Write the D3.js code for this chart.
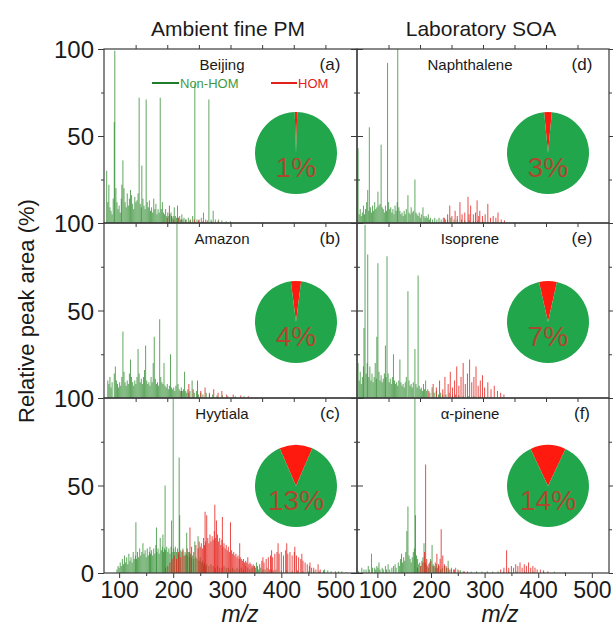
<!DOCTYPE html>
<html><head><meta charset="utf-8">
<script src="https://cdn.jsdelivr.net/npm/d3@7"></script>
<style>body{margin:0;background:#fff} text{font-family:Arial,"Liberation Sans",sans-serif}</style>
</head><body><svg id="c" width="613" height="630"></svg>
<script>
// ---------------- DATA ----------------
const columnTitles = ["Ambient fine PM", "Laboratory SOA"];
const panelNames = ["Beijing", "Amazon", "Hyytiala", "Naphthalene", "Isoprene", "\u03b1-pinene"];
const panelTags = ["(a)", "(b)", "(c)", "(d)", "(e)", "(f)"];
const homPercent = [1, 4, 13, 3, 7, 14];
const legendLabels = ["Non-HOM", "HOM"];
const xTickValues = [100, 200, 300, 400, 500];
const xMinorTicks = [150, 250, 350, 450];
const yTickValues = [0, 50, 100];
const yMinorTicks = [25, 75];
const yAxisTitle = "Relative peak area (%)";
const xAxisTitle = "m/z";

const beijingNonHOM = [[77,30],[79,12],[81,22],[83,9],[85,7],[87,5],[89,14],[91,58],[92,99],[94,20],[96,12],[98,8],[100,10],[102,6],[104,14],[105,22],[107,36],[109,20],[111,12],[113,9],[115,17],[117,10],[119,14],[121,19],[123,16],[125,11],[127,8],[129,15],[131,12],[133,13],[135,17],[137,72],[139,11],[141,9],[142,33],[144,14],[146,10],[148,8],[150,71],[152,12],[154,9],[156,13],[158,7],[160,9],[162,6],[164,14],[166,8],[168,11],[170,5],[172,8],[174,6],[176,72],[178,8],[180,12],[182,6],[184,5],[186,8],[188,4],[190,6],[192,4],[194,5],[196,6],[198,3],[200,4],[202,9],[204,4],[206,3],[208,10],[210,3],[212,4],[214,2],[216,5],[218,2],[220,3],[224,2],[228,3],[232,2],[236,4],[240,80],[244,2],[248,2],[252,3],[256,6],[260,2],[266,71],[270,2],[274,7],[278,2],[284,2],[290,1.5],[298,1],[306,1]];
const beijingHOM = [[189,3],[193,10],[197,4],[201,2],[209,3],[215,2],[223,2],[231,1.5],[239,2],[247,1.5],[255,1],[263,1.5],[271,1],[283,1]];

const amazonNonHOM = [[79,10],[81,8],[83,12],[85,6],[87,9],[91,14],[93,18],[95,10],[97,8],[99,6],[101,9],[103,7],[105,12],[107,38],[109,15],[111,9],[113,7],[115,10],[117,8],[119,14],[121,22],[123,12],[125,9],[127,7],[129,10],[131,8],[133,12],[135,28],[137,14],[139,9],[141,11],[143,8],[145,12],[147,16],[149,30],[151,10],[153,8],[155,9],[157,7],[159,12],[161,9],[163,20],[165,35],[167,11],[169,8],[171,9],[173,7],[175,45],[177,12],[179,9],[181,8],[183,20],[185,7],[187,6],[189,8],[191,5],[193,7],[195,25],[197,6],[199,5],[201,6],[203,4],[205,7],[207,100],[209,8],[211,5],[213,4],[215,6],[217,4],[219,5],[221,15],[223,4],[225,3],[227,5],[229,3],[231,4],[235,10],[239,3],[243,4],[247,2],[251,3],[255,2],[261,3],[267,2],[273,2],[281,1.5],[291,1.5],[301,1],[315,1],[331,1]];
const amazonHOM = [[215,4],[229,8],[237,5],[245,10],[251,4],[259,6],[267,3],[275,5],[283,3],[290,4],[299,2],[311,2],[325,1.5],[339,1]];

const hyytialaNonHOM = [[96,2],[98,4],[100,3],[102,6],[104,4],[106,8],[108,5],[110,10],[112,6],[114,9],[116,5],[118,11],[120,7],[122,9],[124,6],[126,12],[128,8],[130,10],[131,29],[132,8],[134,12],[136,9],[138,14],[140,10],[142,12],[144,17],[146,11],[148,13],[150,9],[152,14],[154,10],[156,12],[157,15],[158,11],[160,13],[162,10],[164,14],[166,11],[168,16],[169,26],[170,12],[172,14],[174,11],[176,20],[178,13],[180,15],[181,22],[182,12],[184,14],[185,50],[186,13],[188,15],[190,12],[192,14],[194,11],[196,15],[197,30],[198,12],[200,100],[201,14],[202,12],[204,15],[206,12],[208,14],[210,11],[211,66],[212,33],[214,13],[216,12],[218,14],[220,10],[222,12],[224,11],[225,23],[226,10],[228,12],[230,9],[232,11],[234,9],[236,10],[238,8],[240,18],[242,9],[244,8],[246,21],[248,7],[250,9],[252,6],[254,7],[256,5],[258,6],[260,4],[262,5],[266,4],[270,5],[274,4],[278,3],[282,4],[286,3],[290,3],[294,4],[298,3],[302,3],[306,2],[310,3],[314,2],[318,3],[322,2],[326,3],[330,2],[334,4],[338,3],[342,2],[346,3],[350,4],[354,6],[358,2],[362,3],[366,2],[370,2],[374,3],[378,2],[382,2],[386,1.5],[390,2],[400,1.5],[410,1.5],[420,1],[430,1.5],[440,1],[450,1],[460,1.5],[470,1],[480,2],[486,1.5],[492,1],[500,1],[506,1],[512,1],[520,0.5]];
const hyytialaHOM = [[186,3],[190,4],[194,6],[198,8],[202,10],[206,8],[210,12],[214,9],[218,13],[222,10],[226,14],[230,12],[231,26],[234,15],[238,12],[242,16],[246,14],[248,18],[250,15],[252,17],[254,14],[256,20],[258,16],[259,35],[260,18],[262,33],[264,20],[266,17],[268,22],[270,18],[272,21],[274,19],[276,24],[277,39],[278,20],[280,30],[282,22],[284,18],[286,20],[288,16],[290,19],[291,32],[292,15],[294,17],[296,14],[298,16],[300,13],[302,15],[304,12],[306,29],[308,13],[310,11],[312,12],[314,10],[316,11],[318,9],[320,10],[322,8],[323,17],[324,9],[326,8],[328,7],[330,8],[332,6],[334,7],[336,6],[338,9],[340,5],[342,6],[344,5],[346,4],[348,5],[350,4],[352,3],[356,4],[360,5],[364,7],[366,9],[368,6],[372,8],[376,9],[380,10],[382,13],[384,9],[388,11],[392,12],[394,17],[396,11],[400,12],[404,10],[408,13],[410,17],[412,11],[416,12],[420,10],[424,12],[425,15],[428,10],[432,9],[436,8],[438,11],[440,7],[444,6],[448,5],[452,4],[453,6],[456,3],[460,3],[464,2],[468,5],[472,2],[478,1.5]];

const naphthaleneNonHOM = [[64,43],[66,5],[68,8],[70,4],[72,6],[74,10],[76,5],[78,8],[80,12],[82,19],[84,7],[85,55],[87,9],[89,6],[91,10],[93,7],[95,12],[97,8],[99,9],[101,18],[103,10],[105,11],[107,45],[109,9],[111,8],[113,6],[115,10],[117,7],[119,92],[121,12],[123,8],[125,9],[127,6],[129,8],[131,5],[133,10],[135,7],[137,12],[138,100],[140,9],[142,7],[144,5],[146,6],[148,4],[150,7],[152,5],[154,8],[157,16],[159,6],[161,5],[163,9],[165,6],[167,7],[170,25],[172,6],[174,5],[176,4],[178,6],[180,3],[182,5],[185,9],[187,4],[189,3],[191,4],[193,3],[195,5],[197,2],[199,3],[203,2],[207,3],[211,2],[215,3],[219,2],[223,3],[227,2],[231,2],[237,3],[243,2],[249,2],[257,2],[263,1.5],[271,1.5],[279,1],[287,1],[297,1],[307,0.5]];
const naphthaleneHOM = [[225,3],[231,5],[235,10],[239,4],[245,7],[249,4],[254,12],[258,5],[263,6],[269,15],[271,5],[274,10],[279,5],[283,6],[286,13],[289,4],[291,7],[296,4],[301,5],[306,11],[311,3],[316,4],[321,3],[325,6],[331,2],[337,1.5]];

const isopreneNonHOM = [[64,20],[66,10],[68,15],[70,8],[72,12],[74,18],[75,40],[77,99],[79,14],[81,20],[82,82],[84,12],[86,18],[88,10],[90,14],[92,9],[94,12],[96,20],[98,11],[99,35],[101,77],[103,15],[105,10],[107,13],[109,9],[111,11],[113,14],[115,30],[116,12],[118,81],[120,14],[122,9],[124,11],[126,8],[128,12],[130,25],[132,10],[134,8],[136,9],[138,7],[140,10],[142,22],[144,9],[146,7],[148,8],[150,6],[152,9],[154,12],[157,61],[159,10],[161,7],[163,8],[165,6],[167,9],[170,28],[172,8],[174,6],[176,70],[178,7],[180,5],[182,6],[184,4],[186,8],[188,5],[190,10],[192,4],[194,5],[198,3],[202,6],[206,3],[210,4],[214,2],[218,3],[222,2],[228,2],[234,3],[240,1.5],[246,2],[252,1.5],[260,1],[270,1],[280,1],[290,0.8],[300,0.8],[310,0.6]];
const isopreneHOM = [[196,4],[204,8],[210,6],[216,10],[222,5],[226,12],[232,8],[236,15],[240,6],[244,10],[248,18],[252,7],[256,12],[260,20],[264,8],[268,14],[272,22],[276,9],[280,12],[284,18],[288,7],[292,10],[296,13],[300,6],[306,9],[312,5],[318,7],[324,4],[330,3],[336,2]];

const apineneNonHOM = [[65,1],[71,3],[75,2],[79,2],[83,4],[85,2],[89,11],[91,3],[95,3],[97,2],[99,4],[101,3],[103,6],[105,2],[109,3],[111,2],[115,4],[117,2],[120,5],[123,2],[127,3],[130,4],[133,5],[135,3],[139,6],[141,4],[143,8],[145,11],[147,6],[149,9],[151,7],[153,12],[155,24],[157,38],[159,10],[161,8],[163,6],[165,9],[167,12],[169,14],[170,100],[171,33],[173,10],[175,8],[177,5],[179,6],[181,4],[183,7],[185,9],[187,17],[189,6],[191,5],[193,4],[195,3],[197,6],[199,8],[202,16],[204,5],[206,4],[208,3],[210,5],[212,3],[215,4],[218,2],[221,3],[225,4],[229,3],[232,7],[235,2],[238,3],[242,2],[246,3],[250,2],[255,1.5],[260,1],[268,1],[275,0.8],[285,1],[295,0.8],[305,1],[315,0.8],[325,1],[335,0.8],[345,1],[360,0.8],[375,0.8],[390,0.8],[410,0.8],[430,0.8],[450,0.5]];
const apineneHOM = [[175,3],[181,4],[185,6],[188,12],[190,62],[192,8],[196,5],[200,7],[204,4],[208,6],[211,11],[214,5],[217,8],[219,25],[222,10],[225,5],[228,4],[232,3],[238,2],[244,2],[252,1.5],[262,1],[330,2],[336,3],[341,13],[345,3],[350,4],[354,3],[358,5],[362,4],[366,6],[370,3],[374,5],[378,4],[382,6],[386,3],[390,4],[394,3],[398,2],[404,2],[410,1.5],[418,1]];

const xDomains = [[72, 540], [62, 532]];

// ---------------- LAYOUT ----------------
const svg = d3.select("#c");
const colX = [[104, 357], [357, 609]];
const rowY = [[49, 223], [223, 398], [398, 573]];
const pieDy = [104, 99, 88];
const pieR = 41;
const GREEN = "#2b8a2b", RED = "#e3201b", PIEGREEN = "#21a64b", FRAME = "#3a3a3a";

const spectra = [
  [beijingNonHOM, beijingHOM], [amazonNonHOM, amazonHOM], [hyytialaNonHOM, hyytialaHOM],
  [naphthaleneNonHOM, naphthaleneHOM], [isopreneNonHOM, isopreneHOM], [apineneNonHOM, apineneHOM]
];

const defs = svg.append("defs");

for (let c = 0; c < 2; c++) {
  const x = d3.scaleLinear().domain(xDomains[c]).range(colX[c]);
  const seg = d3.scaleLinear().domain([0, 8]).range(colX[c]);
  for (let r = 0; r < 3; r++) {
    const i = c * 3 + r;
    const y = d3.scaleLinear().domain([0, 100]).range([rowY[r][1], rowY[r][0]]);
    const g = svg.append("g");
    const cid = "clip" + i;
    defs.append("clipPath").attr("id", cid).append("rect")
      .attr("x", colX[c][0]).attr("y", rowY[r][0])
      .attr("width", colX[c][1] - colX[c][0]).attr("height", rowY[r][1] - rowY[r][0]);
    const plot = g.append("g").attr("clip-path", `url(#${cid})`);
    const [non, hom] = spectra[i];
    plot.append("g").selectAll("line").data(non).join("line")
      .attr("x1", d => x(d[0])).attr("x2", d => x(d[0]))
      .attr("y1", y(0)).attr("y2", d => y(d[1]))
      .attr("stroke", GREEN).attr("stroke-width", 1).attr("stroke-opacity", 0.75);
    plot.append("g").selectAll("line").data(hom).join("line")
      .attr("x1", d => x(d[0])).attr("x2", d => x(d[0]))
      .attr("y1", y(0)).attr("y2", d => y(d[1]))
      .attr("stroke", RED).attr("stroke-width", 1).attr("stroke-opacity", 0.8);

    // frame
    g.append("rect").attr("x", colX[c][0]).attr("y", rowY[r][0])
      .attr("width", colX[c][1] - colX[c][0]).attr("height", rowY[r][1] - rowY[r][0])
      .attr("fill", "none").attr("stroke", FRAME).attr("stroke-width", 1.2);

    // y axes (outward ticks)
    const showLab = c === 0;
    const labFmt = v => (showLab && (v !== 0 || r === 2)) ? String(v) : "";
    const yl = g.append("g").attr("transform", `translate(${colX[c][0]},0)`)
      .call(d3.axisLeft(y).tickValues(yTickValues).tickSize(6).tickFormat(labFmt));
    g.append("g").attr("transform", `translate(${colX[c][0]},0)`)
      .call(d3.axisLeft(y).tickValues(yMinorTicks).tickSize(3).tickFormat(""));
    g.append("g").attr("transform", `translate(${colX[c][1]},0)`)
      .call(d3.axisRight(y).tickValues(yTickValues).tickSize(6).tickFormat(""));
    g.append("g").attr("transform", `translate(${colX[c][1]},0)`)
      .call(d3.axisRight(y).tickValues(yMinorTicks).tickSize(3).tickFormat(""));
    yl.selectAll("text").attr("font-size", 24).attr("fill", "#1a1a1a").attr("dx", "-1").attr("dy", "0.36em");

    if (r === 0) {
      g.append("g").attr("transform", `translate(0,${rowY[r][0]})`)
        .call(d3.axisTop(seg).tickValues(d3.range(1, 8)).tickSize(4).tickFormat(""));
    }
    if (r < 2) {
      g.append("g").attr("transform", `translate(0,${rowY[r][1]})`)
        .call(d3.axisBottom(seg).tickValues(d3.range(1, 8)).tickSize(4).tickFormat(""));
    } else {
      const xb = g.append("g").attr("transform", `translate(0,${rowY[r][1]})`)
        .call(d3.axisBottom(x).tickValues(xTickValues).tickSize(5).tickPadding(4));
      xb.selectAll("text").attr("font-size", 23).attr("fill", "#1a1a1a");
      g.append("g").attr("transform", `translate(0,${rowY[r][1]})`)
        .call(d3.axisBottom(x).tickValues(xMinorTicks).tickSize(3).tickFormat(""));
    }
    g.selectAll(".domain").remove();
    g.selectAll(".tick line").attr("stroke", FRAME).attr("stroke-width", 1);

    // panel labels
    const xm = c === 0 ? 222 : 470;
    g.append("text").attr("x", xm).attr("y", rowY[r][0] + 21).attr("text-anchor", "middle")
      .attr("font-size", 15).attr("fill", "#1a1a1a").text(panelNames[i]);
    g.append("text").attr("x", colX[c][1] - 27).attr("y", rowY[r][0] + 21).attr("text-anchor", "middle")
      .attr("font-size", 17).attr("fill", "#1a1a1a").text(panelTags[i]);

    // pie
    const p = homPercent[i];
    const a0 = -p / 100 * Math.PI;
    const pie = d3.pie().sort(null).startAngle(a0).endAngle(a0 + 2 * Math.PI);
    const arc = d3.arc().innerRadius(0).outerRadius(pieR);
    const cx = colX[c][1] - 61, cy = rowY[r][0] + pieDy[r];
    const pg = g.append("g").attr("transform", `translate(${cx},${cy})`);
    pg.selectAll("path").data(pie([p, 100 - p])).join("path")
      .attr("d", arc).attr("fill", (d, k) => k === 0 ? "#ff1a10" : PIEGREEN);
    pg.append("text").attr("x", 0).attr("y", 24).attr("text-anchor", "middle")
      .attr("font-size", 28).attr("fill", "#c23b2c").attr("fill-opacity", 0.9).text(p + "%");
  }
}

// legend in panel (a)
const lg = svg.append("g");
lg.append("line").attr("x1", 152).attr("x2", 179).attr("y1", 83).attr("y2", 83).attr("stroke", "#1e7d2a").attr("stroke-width", 2);
lg.append("text").attr("x", 180).attr("y", 88).attr("font-size", 13).attr("fill", "#3f9a3f").text(legendLabels[0]);
lg.append("line").attr("x1", 271).attr("x2", 297).attr("y1", 83).attr("y2", 83).attr("stroke", "#e3201b").attr("stroke-width", 2);
lg.append("text").attr("x", 298).attr("y", 88).attr("font-size", 13).attr("fill", "#e3201b").text(legendLabels[1]);

// column titles
svg.append("text").attr("x", 228).attr("y", 36).attr("text-anchor", "middle").attr("font-size", 21).attr("fill", "#1a1a1a").text(columnTitles[0]);
svg.append("text").attr("x", 481).attr("y", 36).attr("text-anchor", "middle").attr("font-size", 21).attr("fill", "#1a1a1a").text(columnTitles[1]);

// axis titles
svg.append("text").attr("transform", "translate(34,311) rotate(-90)").attr("text-anchor", "middle")
  .attr("font-size", 22).attr("fill", "#1a1a1a").text(yAxisTitle);
svg.append("text").attr("x", 240).attr("y", 622).attr("text-anchor", "middle").attr("font-size", 23)
  .attr("font-style", "italic").attr("fill", "#1a1a1a").text(xAxisTitle);
svg.append("text").attr("x", 500).attr("y", 622).attr("text-anchor", "middle").attr("font-size", 23)
  .attr("font-style", "italic").attr("fill", "#1a1a1a").text(xAxisTitle);
</script></body></html>
